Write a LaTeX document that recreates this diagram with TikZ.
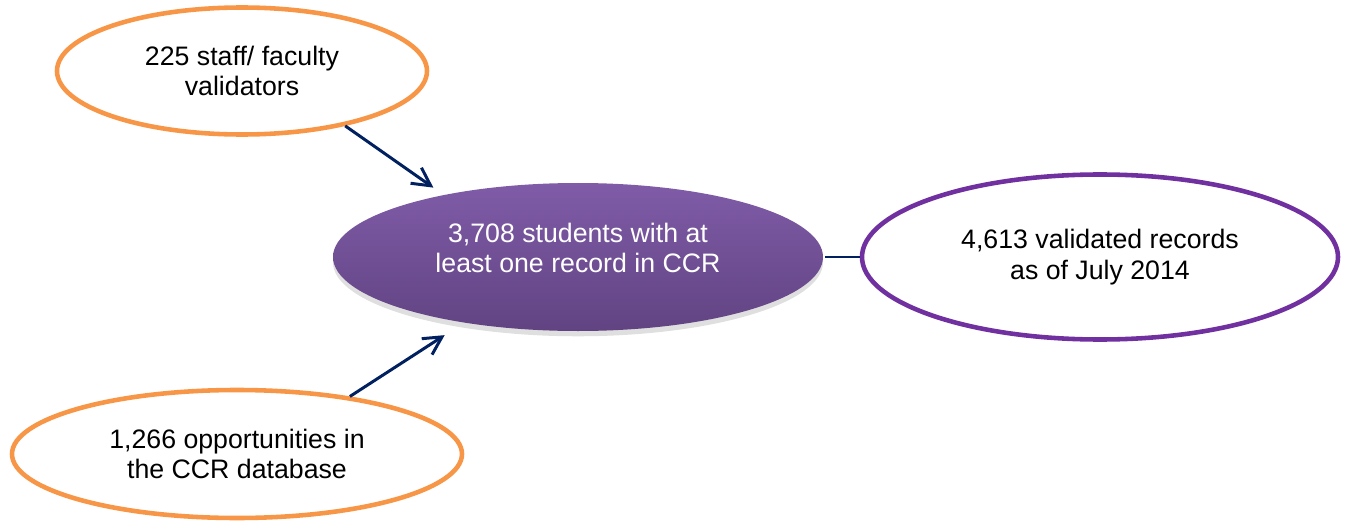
\documentclass[tikz,border=0pt]{standalone}
\usepackage{fontspec}
\setmainfont{Liberation Sans}
\usetikzlibrary{shapes.geometric,arrows.meta,shadows}
\definecolor{ccrorange}{RGB}{247,150,70}
\definecolor{ccrpurple}{RGB}{112,48,160}
\definecolor{ccrnavy}{RGB}{0,32,96}
\definecolor{ccrtop}{RGB}{128,92,168}
\definecolor{ccrbottom}{RGB}{97,67,130}

\begin{document}
\begin{tikzpicture}[
    bubble/.style={ellipse, draw, line width=2.6pt, inner sep=0pt, align=center,
                   font=\fontsize{15.2}{17.2}\selectfont},
    feeder/.style={bubble, draw=ccrorange},
    flow/.style={-{Straight Barb[length=0.36cm, width=0.38cm]}, line width=1.7pt, draw=ccrnavy}
]
    \useasboundingbox (0,0) rectangle (26.92,10.44);

    % Central students node with shading
    \node[bubble, draw=none, top color=ccrtop, bottom color=ccrbottom, text=white,
          minimum width=9.8cm, minimum height=2.96cm, text depth=0.36cm,
          drop shadow={shadow xshift=0pt, shadow yshift=-3pt, opacity=0.25}]
          (students) at (11.56,5.3) {3,708 students with at\\least one record in CCR};

    % Feeding nodes on the left
    \node[feeder, minimum width=7.4cm, minimum height=2.54cm] (validators) at (4.84,9.02)
          {225 staff/ faculty\\validators};
    \node[feeder, minimum width=9.0cm, minimum height=2.56cm] (opportunities) at (4.74,1.36)
          {1,266 opportunities in\\the CCR database};

    % Result node on the right
    \node[bubble, draw=ccrpurple, minimum width=9.52cm, minimum height=3.3cm] (records) at (22.0,5.3)
          {4,613 validated records\\as of July 2014};

    % Connections
    \draw[flow, shorten >=0.2cm] (validators.-28) -- (students.155);
    \draw[flow, shorten >=0.4cm] (opportunities.27) -- (students.210);
    \draw[line width=1.7pt, draw=ccrnavy] (students.east) -- (records.west);
\end{tikzpicture}
\end{document}
